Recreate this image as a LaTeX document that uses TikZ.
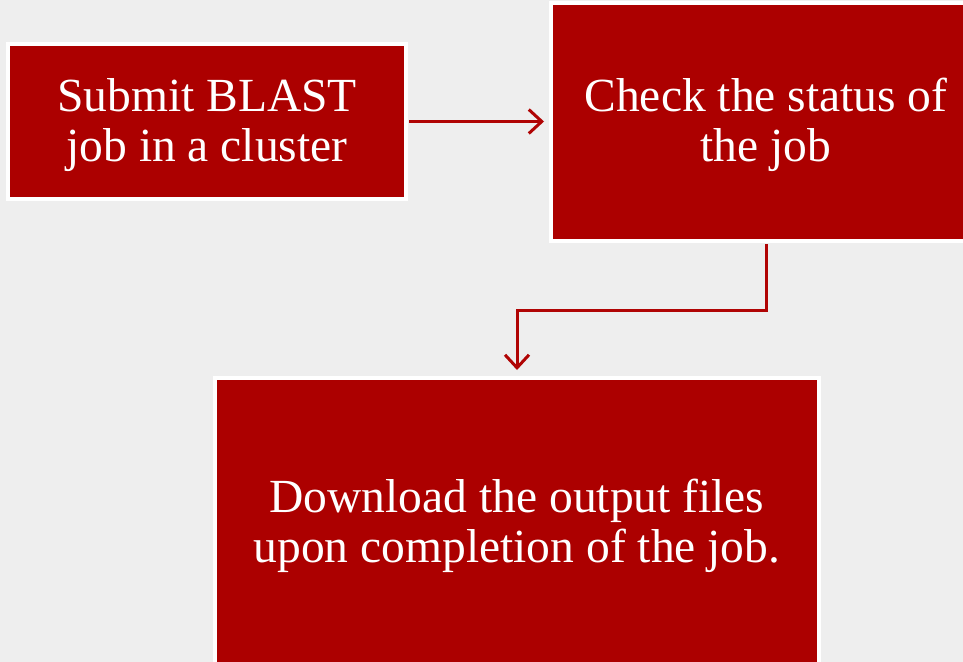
\documentclass[tikz,border=0pt]{standalone}
\usepackage{fontspec}
\setmainfont{Liberation Serif}
\usetikzlibrary{arrows.meta,calc}
\definecolor{boxred}{RGB}{172,0,0}
\definecolor{arrred}{RGB}{176,4,4}
\definecolor{bg}{RGB}{238,238,238}
\begin{document}
\begin{tikzpicture}[x=1bp,y=-1bp,
  redbox/.style={rectangle, fill=boxred, draw=white, line width=4bp, inner sep=0pt,
    text=white, align=center, font=\fontsize{47.7}{49.8}\selectfont, text depth=10bp},
  flowarrow/.style={draw=arrred, line width=3bp,
    -{Straight Barb[length=13bp,width=24bp,line width=3bp]}}]
\useasboundingbox (0,0) rectangle (963,662);
\fill[bg] (0,0) rectangle (963,662);
\clip (0,0) rectangle (963,662);
\node[redbox, minimum width=398bp, minimum height=155bp, text height=89bp] (b1) at (207,121.5)
  {Submit BLAST\\job in a cluster};
\node[redbox, minimum width=430bp, minimum height=238bp, text height=88bp] (b2) at (766,122)
  {Check the status of\\the job};
\node[redbox, minimum width=604bp, minimum height=290bp, text height=88bp] (b3) at (517,523)
  {Download the output files\\upon completion of the job.};
\draw[flowarrow, shorten <=1bp, shorten >=5bp] (b1.east) -- (b1.east -| b2.west);
\coordinate (bend) at ($(b2.south)+(0,67)$);
\draw[flowarrow, line join=miter, shorten <=1bp, shorten >=6bp] (b2.south) -- (bend) -| (b3.north);
\end{tikzpicture}
\end{document}
